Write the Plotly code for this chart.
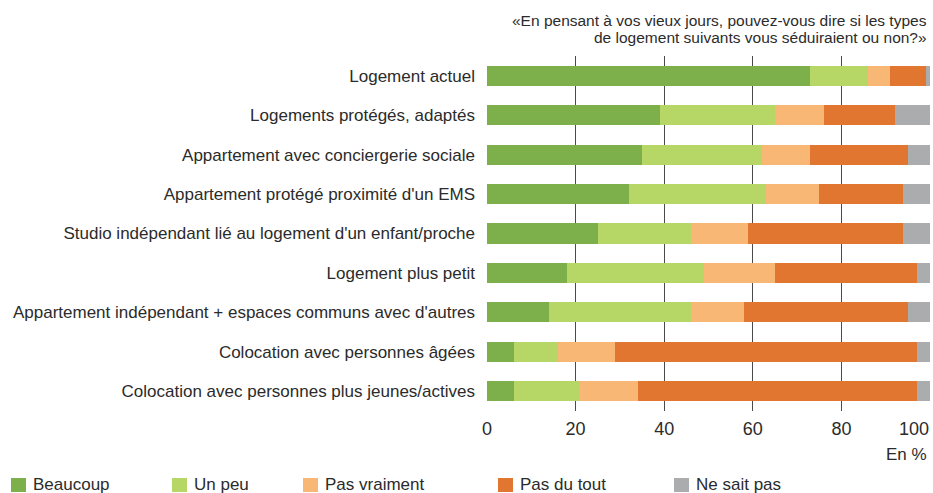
import plotly.graph_objects as go

categories = [
    "Logement actuel",
    "Logements protégés, adaptés",
    "Appartement avec conciergerie sociale",
    "Appartement protégé proximité d'un EMS",
    "Studio indépendant lié au logement d'un enfant/proche",
    "Logement plus petit",
    "Appartement indépendant + espaces communs avec d'autres",
    "Colocation avec personnes âgées",
    "Colocation avec personnes plus jeunes/actives",
]

beaucoup = [73, 39, 35, 32, 25, 18, 14, 6, 6]
un_peu = [13, 26, 27, 31, 21, 31, 32, 10, 15]
pas_vraiment = [5, 11, 11, 12, 13, 16, 12, 13, 13]
pas_du_tout = [8, 16, 22, 19, 35, 32, 37, 68, 63]
ne_sait_pas = [1, 8, 5, 6, 6, 3, 5, 3, 3]

tick_values = [0, 20, 40, 60, 80, 100]

series = [
    ("Beaucoup", beaucoup, "#7db04a"),
    ("Un peu", un_peu, "#b6d766"),
    ("Pas vraiment", pas_vraiment, "#f9b776"),
    ("Pas du tout", pas_du_tout, "#e17631"),
    ("Ne sait pas", ne_sait_pas, "#abacae"),
]

# legend entry left edges (pixels)
legend_x = [11, 172, 303, 498, 674]

FONT = "Liberation Sans, Arial, sans-serif"
TEXT = "#2b2b2b"

W, H = 933, 493
L, R, T, B = 487, 3, 56, 82
PW, PH = W - L - R, H - T - B


def px(x):
    return (x - L) / PW


def py(y):
    return (H - B - y) / PH


fig = go.Figure()
for name, values, color in series:
    fig.add_trace(
        go.Bar(
            y=categories,
            x=values,
            name=name,
            orientation="h",
            marker=dict(color=color, line=dict(width=0)),
            width=0.51,
        )
    )

annotations = [
    dict(
        text="«En pensant à vos vieux jours, pouvez-vous dire si les types",
        x=px(929), y=py(21), xanchor="right", yanchor="middle",
    ),
    dict(
        text="de logement suivants vous séduiraient ou non?»",
        x=px(929), y=py(37), xanchor="right", yanchor="middle",
    ),
    dict(
        text="En %",
        x=px(929), y=py(454), xanchor="right", yanchor="middle",
        font=dict(size=17, color=TEXT),
    ),
]
for a in annotations:
    a.update(xref="paper", yref="paper", showarrow=False)
    a.setdefault("font", dict(size=15.5, color=TEXT))

# last tick label sits flush with the right edge instead of centred on it
annotations.append(
    dict(
        text=str(tick_values[-1]), xref="x", yref="paper",
        x=tick_values[-1], y=py(429), xanchor="right", yanchor="middle",
        xshift=1, showarrow=False, font=dict(size=18, color=TEXT),
    )
)

shapes = []
for (name, _, color), x0 in zip(series, legend_x):
    shapes.append(
        dict(
            type="rect", xref="paper", yref="paper",
            x0=px(x0), x1=px(x0 + 15), y0=py(478), y1=py(492),
            fillcolor=color, line=dict(width=0),
        )
    )
    annotations.append(
        dict(
            text=name, xref="paper", yref="paper",
            x=px(x0 + 20), y=py(484), xanchor="left", yanchor="middle",
            showarrow=False, font=dict(size=17, color=TEXT),
        )
    )

fig.update_layout(
    barmode="stack",
    width=W,
    height=H,
    margin=dict(l=L, r=R, t=T, b=B),
    paper_bgcolor="white",
    plot_bgcolor="white",
    font=dict(family=FONT, size=17, color=TEXT),
    showlegend=False,
    annotations=annotations,
    shapes=shapes,
)

fig.update_xaxes(
    range=[0, 100],
    tickvals=tick_values,
    ticktext=[str(v) for v in tick_values[:-1]] + [""],
    showgrid=True,
    gridcolor="#4a4a4a",
    gridwidth=1,
    zeroline=False,
    showline=False,
    ticks="",
    ticklabelstandoff=5,
    tickfont=dict(size=18, color=TEXT),
)
fig.update_yaxes(
    autorange="reversed",
    showgrid=False,
    ticks="",
    ticklabelstandoff=11,
    tickfont=dict(size=17, color=TEXT),
)

# drop the default 8px page margin so the figure sits at the window origin
fig.write_html(
    "out.html",
    config={"displayModeBar": False},
    post_script="document.body.style.margin='0';document.body.style.overflow='hidden';",
)
